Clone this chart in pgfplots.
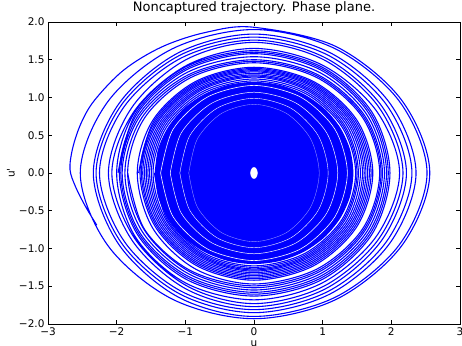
\documentclass[border=0pt]{standalone}
\usepackage{pgfplots}
\pgfplotsset{compat=1.18}
\usepackage{fontspec}
\setmainfont{DejaVu Sans}
\begin{document}
\begin{tikzpicture}
\begin{axis}[
  scale only axis, width=412pt, height=302pt,
  xmin=-3, xmax=3, ymin=-2, ymax=2,
  xtick={-3,-2,-1,0,1,2,3},
  xticklabels={−3,−2,−1,0,1,2,3},
  ytick={-2,-1.5,-1,-0.5,0,0.5,1,1.5,2},
  yticklabels={−2.0,−1.5,−1.0,−0.5,0.0,0.5,1.0,1.5,2.0},
  tick align=inside, major tick length=4pt,
  tick style={black, line width=0.6pt},
  axis line style={black, line width=0.8pt},
  font=\fontsize{10.5}{12.5}\selectfont,
  title={Noncaptured trajectory. Phase plane.},
  title style={at={(axis description cs:0.5,1)}, anchor=base, yshift=4pt, font=\fontsize{13}{15}\selectfont},
  xlabel={u},
  xlabel style={at={(axis description cs:0.5,0)}, anchor=base, yshift=-23pt},
  ylabel={u\textquotesingle},
  ylabel style={at={(axis description cs:-0.09,0.5)}, anchor=center, rotate=0},
]
% dense inner region
\addplot[draw=blue, fill=blue, line width=1pt, smooth] coordinates {
(-1.44,0) (-1.391,0.311) (-1.247,0.60) (-1.018,0.849) (-0.72,1.039) (-0.373,1.159) (0,1.20) (0.373,1.159) (0.72,1.039) (1.018,0.849) (1.247,0.60) (1.391,0.311) (1.44,0) (1.391,-0.311) (1.247,-0.60) (1.018,-0.849) (0.72,-1.039) (0.373,-1.159) (0,-1.20) (-0.373,-1.159) (-0.72,-1.039) (-1.018,-0.849) (-1.247,-0.60) (-1.391,-0.311) (-1.44,0)} -- cycle;
% thin gaps inside the dense region
\addplot[white, line width=0.6pt, smooth] coordinates {
(-1.36,0) (-1.178,0.58) (-0.68,1.005) (0,1.16) (0.68,1.005) (1.178,0.58) (1.36,0) (1.178,-0.58) (0.68,-1.005) (0,-1.16) (-0.68,-1.005) (-1.178,-0.58) (-1.36,0)};
\addplot[white, line width=0.5pt, smooth] coordinates {
(-1.22,0) (-1.057,0.535) (-0.61,0.927) (0,1.07) (0.61,0.927) (1.057,0.535) (1.22,0) (1.057,-0.535) (0.61,-0.927) (0,-1.07) (-0.61,-0.927) (-1.057,-0.535) (-1.22,0)};
\addplot[white, line width=0.4pt, smooth] coordinates {
(-1.08,0) (-0.935,0.495) (-0.54,0.857) (0,0.99) (0.54,0.857) (0.935,0.495) (1.08,0) (0.935,-0.495) (0.54,-0.857) (0,-0.99) (-0.54,-0.857) (-0.935,-0.495) (-1.08,0)};
\addplot[white, opacity=0.6, line width=0.35pt, smooth] coordinates {
(-0.95,0) (-0.823,0.455) (-0.475,0.788) (0,0.91) (0.475,0.788) (0.823,0.455) (0.95,0) (0.823,-0.455) (0.475,-0.788) (0,-0.91) (-0.475,-0.788) (-0.823,-0.455) (-0.95,0)};
% outer spiral
\addplot[blue, line width=1.1pt, smooth, tension=0.55] coordinates {
(-2.29,-0.69) (-2.45,-0.45) (-2.60,-0.18) (-2.68,0.05) (-2.639,0.335) (-2.518,0.66) (-2.321,0.965) (-1.895,1.365) (-1.34,1.671) (-0.694,1.864) (0,1.93)
(1.203,1.671) (2.150,0.965) (2.56,0) (2.150,-0.965) (1.203,-1.671) (0,-1.93) (-1.189,-1.671) (-2.125,-0.965)
(-2.53,0) (-2.125,0.95) (-1.189,1.645) (0,1.90) (1.184,1.645) (2.117,0.95) (2.52,0) (2.117,-0.95) (1.184,-1.645) (0,-1.90) (-1.100,-1.645) (-1.966,-0.95)
(-2.34,0) (-1.966,0.92) (-1.100,1.593) (0,1.84) (1.109,1.593) (1.982,0.92) (2.36,0) (1.982,-0.925) (1.109,-1.602) (0,-1.85) (-1.081,-1.602) (-1.932,-0.925)
(-2.30,0) (-1.932,0.90) (-1.081,1.559) (0,1.80) (1.081,1.559) (1.932,0.90) (2.30,0) (1.932,-0.905) (1.081,-1.567) (0,-1.81) (-1.058,-1.567) (-1.890,-0.905)
(-2.25,0) (-1.890,0.88) (-1.058,1.524) (0,1.76) (1.043,1.524) (1.865,0.88) (2.22,0) (1.865,-0.885) (1.043,-1.533) (0,-1.77) (-0.996,-1.533) (-1.781,-0.885)
(-2.12,0) (-1.781,0.865) (-0.996,1.498) (0,1.73) (1.020,1.498) (1.823,0.865) (2.17,0) (1.823,-0.865) (1.020,-1.498) (0,-1.73) (-0.973,-1.498) (-1.739,-0.865)
(-2.07,0) (-1.739,0.825) (-0.973,1.429) (0,1.65) (0.996,1.429) (1.781,0.825) (2.12,0) (1.781,-0.84) (0.996,-1.455) (0,-1.68) (-1.0,-1.455) (-1.732,-0.84)
(-2.00,0) (-1.732,0.81) (-1.00,1.403) (0,1.62) (0.99,1.403) (1.715,0.81) (1.98,0) (1.715,-0.815) (0.99,-1.412) (0,-1.63) (-0.98,-1.412) (-1.697,-0.815)
(-1.96,0) (-1.697,0.79) (-0.98,1.368) (0,1.58) (0.965,1.368) (1.671,0.79) (1.93,0) (1.671,-0.79) (0.965,-1.368) (0,-1.58) (-0.96,-1.368) (-1.663,-0.79)
(-1.92,0) (-1.663,0.75) (-0.96,1.299) (0,1.50) (0.935,1.299) (1.619,0.75) (1.87,0) (1.619,-0.76) (0.935,-1.316) (0,-1.52) (-0.92,-1.316) (-1.593,-0.76)
(-1.84,0) (-1.593,0.73) (-0.92,1.264) (0,1.46) (0.915,1.264) (1.585,0.73) (1.83,0) (1.585,-0.735) (0.915,-1.273) (0,-1.47) (-0.85,-1.273) (-1.472,-0.735)
(-1.70,0) (-1.472,0.70) (-0.85,1.212) (0,1.40) (0.865,1.212) (1.498,0.70) (1.73,0) (1.498,-0.71) (0.865,-1.230) (0,-1.42) (-0.83,-1.230) (-1.438,-0.71)
(-1.66,0) (-1.438,0.685) (-0.83,1.186) (0,1.37) (0.84,1.186) (1.455,0.685) (1.68,0) (1.455,-0.69) (0.84,-1.195) (0,-1.38) (-0.81,-1.195) (-1.403,-0.69)
(-1.62,0) (-1.403,0.67) (-0.81,1.160) (0,1.34) (0.815,1.160) (1.412,0.67) (1.63,0) (1.412,-0.67) (0.815,-1.160) (0,-1.34) (-0.785,-1.160) (-1.360,-0.67)
(-1.57,0) (-1.360,0.65) (-0.785,1.126) (0,1.30) (0.79,1.126) (1.368,0.65) (1.58,0) (1.368,-0.65) (0.79,-1.126) (0,-1.30) (-0.76,-1.126) (-1.316,-0.65)
(-1.52,0) (-1.316,0.635) (-0.76,1.100) (0,1.27) (0.76,1.100) (1.316,0.635) (1.52,0) (1.316,-0.635) (0.76,-1.100) (0,-1.27) (-0.735,-1.100) (-1.273,-0.635)
(-1.47,0) (-1.273,0.61) (-0.735,1.057) (0,1.22) (0.74,1.057) (1.282,0.61) (1.48,0) (1.282,-0.615) (0.74,-1.065) (0,-1.23) (-0.72,-1.065) (-1.247,-0.615) (-1.44,0)
};
% interleaved turns
\addplot[blue, line width=1.1pt, smooth, tension=0.55] coordinates {
(-1.98,0) (-1.715,0.80) (-0.99,1.386) (0,1.60) (0.978,1.386) (1.693,0.80) (1.955,0) (1.693,-0.803) (0.978,-1.390) (0,-1.605) (-0.97,-1.390) (-1.680,-0.803)
(-1.94,0) (-1.680,0.77) (-0.97,1.334) (0,1.54) (0.95,1.334) (1.645,0.77) (1.90,0) (1.645,-0.775) (0.95,-1.342) (0,-1.55) (-0.94,-1.342) (-1.628,-0.775)
(-1.88,0) (-1.628,0.74) (-0.94,1.282) (0,1.48) (0.925,1.282) (1.602,0.74) (1.85,0) (1.602,-0.748) (0.925,-1.295) (0,-1.495) (-0.92,-1.295) (-1.593,-0.748) (-1.84,0)
};
\addplot[blue, line width=1.1pt, smooth, tension=0.55] coordinates {
(-1.68,0) (-1.455,0.693) (-0.84,1.199) (0,1.385) (0.853,1.199) (1.477,0.693) (1.705,0) (1.477,-0.70) (0.853,-1.212) (0,-1.40) (-0.82,-1.212) (-1.420,-0.70)
(-1.64,0) (-1.420,0.678) (-0.82,1.173) (0,1.355) (0.828,1.173) (1.433,0.678) (1.655,0) (1.433,-0.68) (0.828,-1.178) (0,-1.36) (-0.798,-1.178) (-1.381,-0.68)
(-1.595,0) (-1.381,0.66) (-0.798,1.143) (0,1.32) (0.803,1.143) (1.390,0.66) (1.605,0) (1.390,-0.66) (0.803,-1.143) (0,-1.32) (-0.773,-1.143) (-1.338,-0.66)
(-1.545,0) (-1.338,0.643) (-0.773,1.113) (0,1.285) (0.775,1.113) (1.342,0.643) (1.55,0) (1.342,-0.643) (0.775,-1.113) (0,-1.285) (-0.748,-1.113) (-1.295,-0.643)
(-1.495,0) (-1.295,0.623) (-0.748,1.078) (0,1.245) (0.75,1.078) (1.299,0.623) (1.50,0) (1.299,-0.625) (0.75,-1.083) (0,-1.25) (-0.73,-1.083) (-1.26,-0.625) (-1.45,0)
};
% central white spot
\addplot[draw=white, fill=white, line width=0.3pt, smooth] coordinates {
(-0.05,0) (-0.043,0.0375) (-0.025,0.065) (0,0.075) (0.025,0.065) (0.043,0.0375) (0.05,0) (0.043,-0.0375) (0.025,-0.065) (0,-0.075) (-0.025,-0.065) (-0.043,-0.0375) (-0.05,0)} -- cycle;
\end{axis}
\pgfresetboundingbox
\useasboundingbox ([xshift=-48pt,yshift=-22pt]current axis.south west) rectangle ([xshift=2pt,yshift=22pt]current axis.north east);
\end{tikzpicture}
\end{document}
